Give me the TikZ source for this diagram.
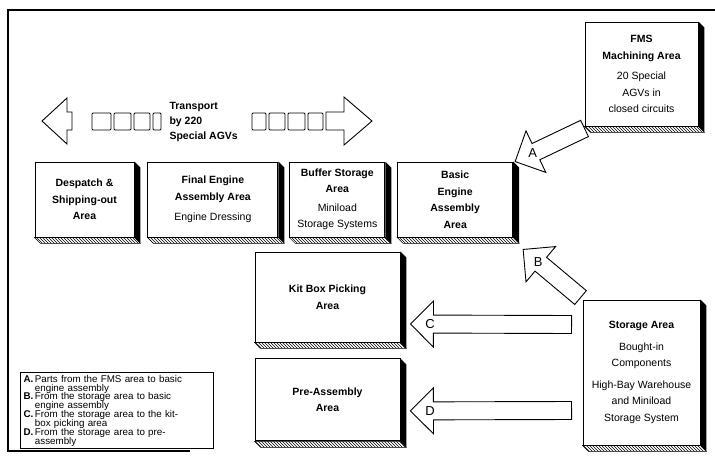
\documentclass[tikz,border=0pt]{standalone}
\usepackage{fontspec}
\setmainfont{Liberation Sans}
\usetikzlibrary{positioning, calc, patterns, backgrounds}

\newcommand{\keyfont}{\fontsize{9.8}{8.9}\selectfont\setlength{\lineskiplimit}{-6pt}}

\tikzset{
  areabox/.style={rectangle, draw, fill=white, line width=0.9pt, align=center,
    inner sep=0pt, font=\fontsize{10.5}{16.5}\selectfont\bfseries},
  flowarrow/.style={draw, fill=white, line width=0.9pt, line join=miter},
  flowlabel/.style={font=\fontsize{13}{13}\selectfont},
  hatchface/.style={draw, line width=0.5pt, pattern=north west lines},
  agv/.style={draw, fill=white, line width=0.9pt, rounded corners=1pt}
}

% block arrow: tail, tip, label
\newcommand{\blockarrow}[3]{
  \coordinate (ba-h) at ($(#2)!23pt!(#1)$);
  \draw[flowarrow] ($(#1)!9pt!90:(#2)$) -- ($(ba-h)!9pt!-90:(#1)$)
    -- ($(ba-h)!23pt!-90:(#1)$) -- (#2) -- ($(ba-h)!23pt!90:(#1)$)
    -- ($(ba-h)!9pt!90:(#1)$) -- ($(#1)!9pt!-90:(#2)$) -- cycle;
  \node[flowlabel] at ($(ba-h)!0.15!(#2)$) {#3};
}

\begin{document}
\begin{tikzpicture}[x=1pt, y=-1pt]
  \useasboundingbox (0,0) rectangle (715,459);

  % frame
  \draw[line width=1.2pt] (715,10) -- (8,10) -- (8,451) -- (190,451);

  % areas
  \node[areabox, minimum width=99pt, minimum height=75pt] (desp) at (84.5,199.5)
    {Despatch \&\\Shipping-out\\Area};
  \node[areabox, minimum width=130pt, minimum height=75pt, right=13pt of desp] (final)
    {Final Engine\\Assembly Area\\[4pt]\mdseries Engine Dressing};
  \node[areabox, minimum width=95pt, minimum height=75pt, right=11pt of final] (buffer)
    {Buffer Storage\\Area\\[2pt]\mdseries Miniload\\\mdseries Storage Systems};
  \node[areabox, minimum width=115pt, minimum height=75pt, right=12pt of buffer] (basic)
    {Basic\\Engine\\Assembly\\Area};
  \node[areabox, minimum width=113pt, minimum height=104pt] (fms) at (641.5,74)
    {FMS\\Machining Area\\[4pt]\mdseries 20 Special\\\mdseries AGVs in\\\mdseries closed circuits};
  \node[areabox, minimum width=145pt, minimum height=90pt] (kit) at (327.5,297)
    {Kit Box Picking\\Area};
  \node[areabox, minimum width=145pt, minimum height=82pt, below=16pt of kit] (pre)
    {Pre-Assembly\\Area};
  \node[areabox, minimum width=117pt, minimum height=145pt] (store) at (641.5,372.5)
    {Storage Area\\[5pt]\mdseries Bought-in\\\mdseries Components\\[5pt]\mdseries High-Bay Warehouse\\\mdseries and Miniload\\\mdseries Storage System};

  % extruded sides
  \foreach \n in {desp,final,buffer,basic,fms,kit,pre,store} {
    \fill (\n.north east) -- ++(6,6) -- ($(\n.south east)+(6,6)$) -- (\n.south east) -- cycle;
    \draw[hatchface] (\n.south west) -- ++(6,6) -- ($(\n.south east)+(6,6)$) -- (\n.south east) -- cycle;
  }

  % flows
  \coordinate (aTail) at ($(fms.south west)+(0,2)$);
  \coordinate (aTip) at ($(basic.north east)+(2,0)$);
  \coordinate (bTail) at ($(store.north west)+(-2,-2)$);
  \coordinate (bTip) at ($(basic.south east)+(10,12)$);
  \coordinate (cTail) at ($(store.west)+(-11,-48)$);
  \coordinate (cTip) at ($(kit.east)+(10,27)$);
  \coordinate (dTail) at ($(store.west)+(-11,38)$);
  \coordinate (dTip) at ($(pre.east)+(10,11)$);
  \begin{pgfonlayer}{background}
    \blockarrow{aTail}{aTip}{A}
    \blockarrow{bTail}{bTip}{B}
  \end{pgfonlayer}
  \blockarrow{cTail}{cTip}{C}
  \blockarrow{dTail}{dTip}{D}

  % transport
  \node[font=\fontsize{10.5}{15}\selectfont\bfseries, align=left, anchor=west] (transport)
    at (166,122) {Transport\\by 220\\Special AGVs};
  \draw[flowarrow] (42,121) -- (67,98) -- (67,112) -- (72,112) -- (72,130)
    -- (67,130) -- (67,144) -- cycle;
  \draw[flowarrow] (372,121) -- (344,97) -- (344,112) -- (326,112) -- (326,130)
    -- (344,130) -- (344,145) -- cycle;
  \foreach \x/\w in {92/19, 114/17, 134/16, 153/8}
    \draw[agv] (\x,113) rectangle ++(\w,17);
  \foreach \x/\w in {252/14, 269/16, 288/17, 308/15}
    \draw[agv] (\x,113) rectangle ++(\w,17);

  % key
  \node[draw, line width=1pt, anchor=north west, align=left, inner xsep=3pt, inner ysep=2.5pt,
    text width=187pt, font=\keyfont] (key) at (20,372)
    {\textbf{A.}\,Parts from the FMS area to basic\\
     \hphantom{\textbf{A.}\,}engine assembly\\
     \textbf{B.}\,From the storage area to basic\\
     \hphantom{\textbf{B.}\,}engine assembly\\
     \textbf{C.}\,From the storage area to the kit-\\
     \hphantom{\textbf{C.}\,}box picking area\\
     \textbf{D.}\,From the storage area to pre-\\
     \hphantom{\textbf{D.}\,}assembly};
\end{tikzpicture}
\end{document}
